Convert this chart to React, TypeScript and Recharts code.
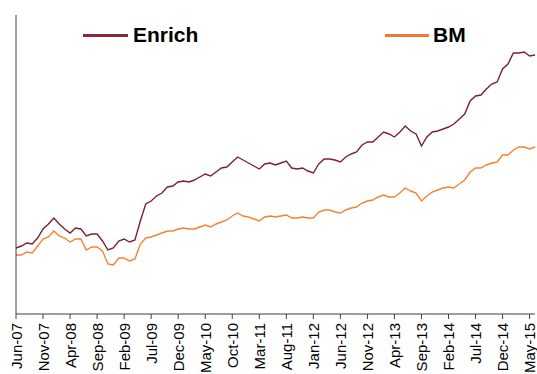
import React from "react";
import { LineChart, Line, XAxis, YAxis } from "recharts";

const months: string[] = [
  "Jun-07","Jul-07","Aug-07","Sep-07","Oct-07","Nov-07","Dec-07","Jan-08","Feb-08","Mar-08",
  "Apr-08","May-08","Jun-08","Jul-08","Aug-08","Sep-08","Oct-08","Nov-08","Dec-08","Jan-09",
  "Feb-09","Mar-09","Apr-09","May-09","Jun-09","Jul-09","Aug-09","Sep-09","Oct-09","Nov-09",
  "Dec-09","Jan-10","Feb-10","Mar-10","Apr-10","May-10","Jun-10","Jul-10","Aug-10","Sep-10",
  "Oct-10","Nov-10","Dec-10","Jan-11","Feb-11","Mar-11","Apr-11","May-11","Jun-11","Jul-11",
  "Aug-11","Sep-11","Oct-11","Nov-11","Dec-11","Jan-12","Feb-12","Mar-12","Apr-12","May-12",
  "Jun-12","Jul-12","Aug-12","Sep-12","Oct-12","Nov-12","Dec-12","Jan-13","Feb-13","Mar-13",
  "Apr-13","May-13","Jun-13","Jul-13","Aug-13","Sep-13","Oct-13","Nov-13","Dec-13","Jan-14",
  "Feb-14","Mar-14","Apr-14","May-14","Jun-14","Jul-14","Aug-14","Sep-14","Oct-14","Nov-14",
  "Dec-14","Jan-15","Feb-15","Mar-15","Apr-15","May-15","Jun-15"
];

const enrich: number[] = [
  66, 68, 71, 70, 76, 85, 90, 96, 90, 85,
  81, 86, 85, 78, 80, 80, 73, 64, 66, 73,
  75, 72, 74, 93, 110, 113, 118, 121, 127, 128,
  132, 133, 132, 134, 137, 140, 138, 142, 146, 147,
  152, 157, 154, 151, 148, 145, 150, 151, 149, 151,
  153, 146, 145, 146, 143, 141, 150, 155, 155, 154,
  152, 157, 160, 162, 169, 172, 172, 177, 182, 180,
  177, 182, 188, 183, 180, 168, 177, 182, 183, 185,
  187, 190, 195, 200, 213, 218, 219, 225, 230, 232,
  245, 250, 261, 261, 262, 258, 259
];

const bm: number[] = [
  59, 59, 62, 61, 68, 75, 77, 83, 78, 76,
  72, 75, 75, 64, 67, 67, 63, 50, 49, 56,
  56, 53, 55, 70, 76, 77, 79, 81, 83, 83,
  85, 86, 85, 85, 87, 89, 87, 90, 92, 94,
  98, 101, 98, 97, 95, 93, 97, 98, 97, 98,
  99, 96, 96, 97, 96, 96, 102, 104, 104, 102,
  101, 104, 106, 107, 111, 113, 114, 117, 119, 117,
  117, 121, 126, 123, 121, 113, 118, 122, 124, 126,
  127, 126, 130, 134, 142, 146, 146, 149, 151, 152,
  159, 159, 164, 167, 167, 165, 167
];

const tickLabels: string[] = [
  "Jun-07","Nov-07","Apr-08","Sep-08","Feb-09","Jul-09","Dec-09","May-10","Oct-10","Mar-11",
  "Aug-11","Jan-12","Jun-12","Nov-12","Apr-13","Sep-13","Feb-14","Jul-14","Dec-14","May-15"
];

const seriesNames = { enrich: "Enrich", bm: "BM" };
const colors = { enrich: "#7B2230", bm: "#F58232" };

const data = months.map((m, i) => ({ month: m, enrich: enrich[i], bm: bm[i] }));

const FONT = "Liberation Sans, Arial, sans-serif";

const RotTick = (props: any) => {
  const { x, y, payload } = props;
  if (!tickLabels.includes(payload.value)) return null;
  return (
    <text
      x={x}
      y={y}
      transform={`rotate(-90, ${x}, ${y})`}
      textAnchor="end"
      dominantBaseline="central"
      dx={-2}
      fontFamily={FONT}
      fontSize={15}
      fill="#000"
    >
      {payload.value}
    </text>
  );
};

const legendText: React.CSSProperties = {
  position: "absolute",
  top: 22,
  fontFamily: FONT,
  fontWeight: "bold",
  fontSize: 21,
  color: "#000",
  lineHeight: "26px",
};

export default function App() {
  return (
    <div style={{ position: "absolute", left: 0, top: 0, width: 537, height: 374, background: "#fff" }}>
      <LineChart width={537} height={374} data={data} margin={{ top: 15, right: 2, left: 15, bottom: 0 }}>
        <XAxis
          dataKey="month"
          interval={0}
          height={60}
          tick={<RotTick />}
          ticks={tickLabels}
          tickLine={{ stroke: "#404040" }}
          tickSize={5}
          axisLine={{ stroke: "#404040" }}
          padding={{ left: 0, right: 0 }}
        />
        <YAxis
          domain={[0, 299]}
          allowDataOverflow
          width={1}
          tick={false}
          tickLine={false}
          axisLine={{ stroke: "#404040" }}
        />
        <Line type="linear" dataKey="enrich" name={seriesNames.enrich} stroke={colors.enrich} strokeWidth={1.4} dot={false} isAnimationActive={false} />
        <Line type="linear" dataKey="bm" name={seriesNames.bm} stroke={colors.bm} strokeWidth={1.4} dot={false} isAnimationActive={false} />
      </LineChart>
      <div style={{ position: "absolute", left: 83, top: 34, width: 45, height: 3, background: "#8A2A38" }} />
      <div style={{ ...legendText, left: 133 }}>{seriesNames.enrich}</div>
      <div style={{ position: "absolute", left: 385, top: 34, width: 44, height: 3, background: "#F07A35" }} />
      <div style={{ ...legendText, left: 433 }}>{seriesNames.bm}</div>
    </div>
  );
}
